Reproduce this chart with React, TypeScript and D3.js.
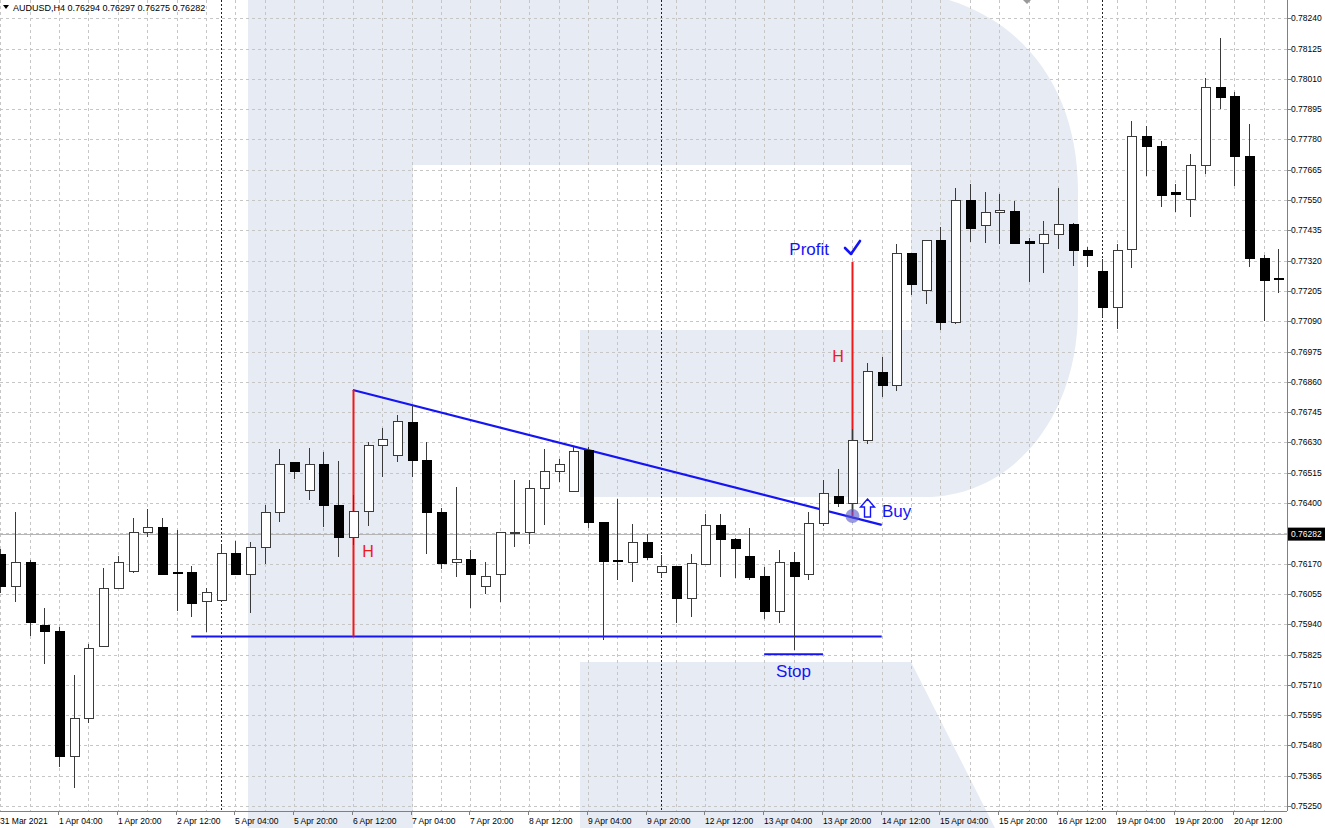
import React from "react";
import * as d3 from "d3";

const W = 1325;
const H = 828;
const plotRight = 1287;
const plotBottom = 811;

// AUDUSD H4 bars, 31 Mar 12:00 .. 21 Apr 00:00
const opens = [
  0.76203, 0.76085, 0.76173, 0.75934, 0.75911, 0.75436, 0.75581, 0.75854, 0.76074, 0.76142,
  0.76287, 0.76306, 0.76135, 0.76135, 0.76025, 0.76029, 0.76207, 0.76127, 0.76233, 0.76363,
  0.76552, 0.76446, 0.76545, 0.76389, 0.76271, 0.76366, 0.76617, 0.76579, 0.76704, 0.7656,
  0.76363, 0.76173, 0.76184, 0.76082, 0.76127, 0.76287, 0.7629, 0.76454, 0.76518, 0.76442,
  0.76598, 0.76325, 0.7618, 0.76173, 0.76249, 0.76135, 0.76161, 0.76036, 0.76165, 0.76313,
  0.7626, 0.76196, 0.7612, 0.75987, 0.76173, 0.76127, 0.76321, 0.76423, 0.764, 0.76636,
  0.76894, 0.76848, 0.77349, 0.77205, 0.77395, 0.77084, 0.77547, 0.77452, 0.77501, 0.77505,
  0.77391, 0.77387, 0.77421, 0.77459, 0.77357, 0.77277, 0.77144, 0.77361, 0.7779, 0.77755,
  0.77577, 0.77554, 0.77683, 0.77976, 0.77945, 0.77714, 0.77327, 0.77251,
];
const highs = [
  0.76226, 0.76366, 0.76184, 0.76002, 0.7593, 0.75748, 0.75865, 0.76154, 0.76199, 0.76344,
  0.76378, 0.76344, 0.76298, 0.76161, 0.76078, 0.76241, 0.76256, 0.76252, 0.76393, 0.76605,
  0.76552, 0.76609, 0.76594, 0.7656, 0.76431, 0.76632, 0.76685, 0.76734, 0.76772, 0.76632,
  0.76381, 0.76461, 0.76222, 0.76177, 0.76287, 0.76488, 0.76488, 0.76605, 0.76567, 0.76613,
  0.76613, 0.76325, 0.76416, 0.76321, 0.76283, 0.76203, 0.76161, 0.76207, 0.76359, 0.76359,
  0.76268, 0.76306, 0.76158, 0.76222, 0.76214, 0.76366, 0.76488, 0.7653, 0.76681, 0.76932,
  0.76955, 0.77383, 0.77349, 0.77399, 0.77448, 0.77596, 0.77611, 0.77581, 0.77573, 0.77547,
  0.77406, 0.77471, 0.77596, 0.77463, 0.77372, 0.77327, 0.77383, 0.7785, 0.77831, 0.77774,
  0.77611, 0.77725, 0.78013, 0.78165, 0.7796, 0.77839, 0.77342, 0.77364,
];
const lows = [
  0.76059, 0.76025, 0.75896, 0.75789, 0.75398, 0.75319, 0.75566, 0.75854, 0.76074, 0.76135,
  0.76271, 0.76127, 0.75991, 0.75968, 0.75911, 0.76029, 0.76127, 0.75983, 0.76169, 0.76328,
  0.76492, 0.76412, 0.76309, 0.76196, 0.76241, 0.76313, 0.76499, 0.76556, 0.76499, 0.76207,
  0.7615, 0.7612, 0.76002, 0.76055, 0.76025, 0.76233, 0.76245, 0.76317, 0.7648, 0.76442,
  0.76306, 0.75881, 0.76108, 0.76101, 0.76184, 0.7612, 0.75945, 0.75968, 0.76165, 0.7612,
  0.76116, 0.76108, 0.7596, 0.75945, 0.75843, 0.76108, 0.76313, 0.76385, 0.76366, 0.76624,
  0.76803, 0.76826, 0.7719, 0.77156, 0.77057, 0.7708, 0.77391, 0.77387, 0.77383, 0.77387,
  0.77239, 0.77273, 0.77364, 0.773, 0.77296, 0.77106, 0.77061, 0.77292, 0.77642, 0.77524,
  0.77505, 0.77486, 0.77649, 0.77896, 0.77604, 0.77296, 0.77091, 0.77197,
];
const closes = [
  0.76082, 0.76173, 0.75945, 0.75911, 0.75436, 0.75581, 0.75846, 0.76074, 0.76173, 0.76287,
  0.76306, 0.76127, 0.76131, 0.76017, 0.76059, 0.76207, 0.76127, 0.76233, 0.76363, 0.76548,
  0.76518, 0.76545, 0.76389, 0.76271, 0.76366, 0.76617, 0.7664, 0.76708, 0.7656, 0.76363,
  0.76169, 0.76184, 0.76127, 0.76123, 0.76287, 0.7629, 0.76454, 0.76518, 0.76545, 0.76594,
  0.76325, 0.76177, 0.76177, 0.76249, 0.76192, 0.76161, 0.76036, 0.76169, 0.76313, 0.7626,
  0.76226, 0.76116, 0.75987, 0.76173, 0.76123, 0.76321, 0.76438, 0.764, 0.76636, 0.76898,
  0.76848, 0.77349, 0.77228, 0.77395, 0.77084, 0.77547, 0.77444, 0.77501, 0.77509, 0.77387,
  0.77387, 0.77421, 0.77459, 0.77357, 0.77338, 0.77144, 0.77357, 0.7779, 0.77755, 0.77569,
  0.77573, 0.77683, 0.77976, 0.77941, 0.77714, 0.77327, 0.77243, 0.77247,
];

const priceTicks = [
  "0.78240", "0.78125", "0.78010", "0.77895", "0.77780", "0.77665", "0.77550", "0.77435",
  "0.77320", "0.77205", "0.77090", "0.76975", "0.76860", "0.76745", "0.76630", "0.76515",
  "0.76400", "0.76285", "0.76170", "0.76055", "0.75940", "0.75825", "0.75710", "0.75595",
  "0.75480", "0.75365", "0.75250",
];
const timeLabels = [
  "31 Mar 2021", "1 Apr 04:00", "1 Apr 20:00", "2 Apr 12:00", "5 Apr 04:00", "5 Apr 20:00",
  "6 Apr 12:00", "7 Apr 04:00", "7 Apr 20:00", "8 Apr 12:00", "9 Apr 04:00", "9 Apr 20:00",
  "12 Apr 12:00", "13 Apr 04:00", "13 Apr 20:00", "14 Apr 12:00", "15 Apr 04:00",
  "15 Apr 20:00", "16 Apr 12:00", "19 Apr 04:00", "19 Apr 20:00", "20 Apr 12:00",
];
const weekStarts = [15, 45, 75];

const bid = 0.76282;
const support = { from: 13, to: 60, price: 0.75893 };
const trend = { i1: 24, p1: 0.76829, i2: 60, p2: 0.76317 };
const stopLine = { from: 52, to: 56, price: 0.75826 };
const buy = { i: 58, price: 0.76351 };
const target = { i: 58, price: 0.77315 };
// where the two "H" marks sit
const hMarks = [
  { i: 24, dx: 15, price: 0.76218 },
  { i: 58, dx: -14, price: 0.76958 },
];

const x = d3.scaleLinear().domain([0, 87]).range([0.3, 0.3 + 14.69 * 87]);
const y = d3.scaleLinear().domain([0.7525, 0.7824]).range([806, 18.3]);

const BLUE = "#1414f5";
const RED = "#f01818";
const GRID = "#c6c6c6";

export default function App() {
  const px = (i: number) => Math.round(x(i));
  const crisp = (v: number) => Math.round(v) + 0.5;

  const gridX = d3.range(0, 88, 2);

  return (
    <div style={{ position: "absolute", left: 0, top: 0, width: W, height: H, background: "#fff" }}>
      <svg
        width={W}
        height={H}
        style={{ display: "block" }}
        fontFamily="'Liberation Sans', Arial, sans-serif"
      >
        <defs>
          <clipPath id="plot">
            <rect x={0} y={0} width={plotRight} height={plotBottom} />
          </clipPath>
        </defs>
        <rect width={W} height={H} fill="#fff" />

        {/* watermark letter */}
        <g fill="#e7ebf4">
          <rect x={248} y={0} width={165} height={H} />
          <path d="M413,-10 L880,-10 C1000,-10 1078,70 1078,190 L1078,310 C1078,420 1010,497 925,497 L580,497 L580,330 L911,330 L911,165 L413,165 Z" />
          <path d="M580,662 L911,662 L995,828 L580,828 Z" />
        </g>

        <g clipPath="url(#plot)">
          {/* grid */}
          {priceTicks.map((t) => (
            <line
              key={t}
              x1={0}
              x2={plotRight}
              y1={crisp(y(+t))}
              y2={crisp(y(+t))}
              stroke={GRID}
              strokeDasharray="3,3"
            />
          ))}
          {gridX.map((i) => (
            <line
              key={i}
              x1={px(i) + 0.5}
              x2={px(i) + 0.5}
              y1={0}
              y2={plotBottom}
              stroke={GRID}
              strokeDasharray="3,3"
            />
          ))}
          {weekStarts.map((i) => (
            <line
              key={i}
              x1={px(i) + 0.5}
              x2={px(i) + 0.5}
              y1={0}
              y2={plotBottom}
              stroke="#222"
              strokeDasharray="2,2"
            />
          ))}
          {/* bid line */}
          <line x1={0} x2={plotRight} y1={crisp(y(bid))} y2={crisp(y(bid))} stroke="#b4b4b4" />

          {/* drawn objects */}
          <line
            x1={x(support.from)}
            x2={x(support.to)}
            y1={y(support.price)}
            y2={y(support.price)}
            stroke={BLUE}
            strokeWidth={2}
          />
          <line
            x1={x(trend.i1)}
            x2={x(trend.i2)}
            y1={y(trend.p1)}
            y2={y(trend.p2)}
            stroke={BLUE}
            strokeWidth={2.2}
          />
          <line
            x1={x(stopLine.from)}
            x2={x(stopLine.to)}
            y1={y(stopLine.price)}
            y2={y(stopLine.price)}
            stroke={BLUE}
            strokeWidth={1.8}
          />
          <line
            x1={px(trend.i1) + 0.5}
            x2={px(trend.i1) + 0.5}
            y1={y(trend.p1)}
            y2={y(support.price)}
            stroke={RED}
            strokeWidth={2}
          />
          <line
            x1={px(target.i) + 0.5}
            x2={px(target.i) + 0.5}
            y1={y(target.price)}
            y2={y(buy.price)}
            stroke={RED}
            strokeWidth={2}
          />

          {/* candles */}
          {opens.map((o, i) => {
            const c = closes[i];
            const cx = px(i);
            const top = y(Math.max(o, c));
            const bot = y(Math.min(o, c));
            const up = c >= o;
            return (
              <g key={i} shapeRendering="crispEdges">
                <line x1={cx + 0.5} x2={cx + 0.5} y1={y(highs[i])} y2={y(lows[i])} stroke="#3a3a3a" />
                <rect
                  x={cx - 4}
                  y={top}
                  width={9}
                  height={Math.max(1, bot - top)}
                  fill={up ? "#fff" : "#000"}
                  stroke={up ? "#3a3a3a" : "#000"}
                />
              </g>
            );
          })}

          {/* buy point */}
          <circle cx={px(buy.i) + 0.5} cy={y(buy.price)} r={7} fill="#5555cc" fillOpacity={0.6} />
          <path
            d={(() => {
              const ax = px(buy.i) + 15.5;
              const ay = y(buy.price);
              return `M${ax},${ay - 17} L${ax + 7},${ay - 9} L${ax + 3},${ay - 9} L${ax + 3},${ay + 1} L${ax - 3},${ay + 1} L${ax - 3},${ay - 9} L${ax - 7},${ay - 9} Z`;
            })()}
            fill="#fff"
            stroke={BLUE}
            strokeWidth={1.4}
          />
          <text x={px(buy.i) + 30} y={y(buy.price) + 1} fontSize={17} fill={BLUE}>
            Buy
          </text>

          {/* profit target */}
          <path
            d={`M${px(target.i) - 7},${y(target.price) - 14} L${px(target.i) - 1},${y(target.price) - 8} L${px(target.i) + 8},${y(target.price) - 21}`}
            fill="none"
            stroke={BLUE}
            strokeWidth={2.6}
            strokeLinecap="round"
            strokeLinejoin="round"
          />
          <text
            x={px(target.i) - 23}
            y={y(target.price) - 7}
            fontSize={17}
            fill={BLUE}
            textAnchor="end"
          >
            Profit
          </text>

          {hMarks.map((m) => (
            <text
              key={m.i}
              x={px(m.i) + m.dx}
              y={y(m.price) + 6}
              fontSize={16}
              fill={RED}
              textAnchor="middle"
            >
              H
            </text>
          ))}

          <text
            x={x((stopLine.from + stopLine.to) / 2)}
            y={y(stopLine.price) + 23}
            fontSize={17}
            fill={BLUE}
            textAnchor="middle"
          >
            Stop
          </text>
        </g>

        {/* chart shift marker */}
        <path d="M1023,0 L1031,0 L1027,4 Z" fill="#999" />

        {/* title */}
        <path d="M3,5 L9,5 L6,9 Z" fill="#000" />
        <text x={13} y={11} fontSize={9} fill="#000">
          AUDUSD,H4  0.76294 0.76297 0.76275 0.76282
        </text>

        {/* price axis */}
        <line x1={plotRight + 0.5} x2={plotRight + 0.5} y1={0} y2={plotBottom} stroke="#808080" />
        {priceTicks.map((t) => (
          <g key={t}>
            <line
              x1={plotRight}
              x2={plotRight + 4}
              y1={crisp(y(+t))}
              y2={crisp(y(+t))}
              stroke="#808080"
            />
            <text x={plotRight + 4} y={y(+t) + 3} fontSize={8.5} fill="#000">
              {t}
            </text>
          </g>
        ))}
        <rect x={plotRight + 1} y={y(bid) - 6.5} width={W - plotRight - 1} height={13} fill="#000" />
        <text x={plotRight + 4} y={y(bid) + 3} fontSize={8.5} fill="#fff">
          {bid.toFixed(5)}
        </text>

        {/* time axis */}
        <line x1={0} x2={plotRight} y1={plotBottom + 0.5} y2={plotBottom + 0.5} stroke="#808080" />
        {timeLabels.map((t, k) => {
          const tx = px(k * 4) - 1;
          return (
            <g key={t}>
              <line x1={tx + 0.5} x2={tx + 0.5} y1={plotBottom} y2={plotBottom + 4} stroke="#808080" />
              <text x={tx + 1} y={824} fontSize={8.5} fill="#000">
                {t}
              </text>
            </g>
          );
        })}
      </svg>
    </div>
  );
}
